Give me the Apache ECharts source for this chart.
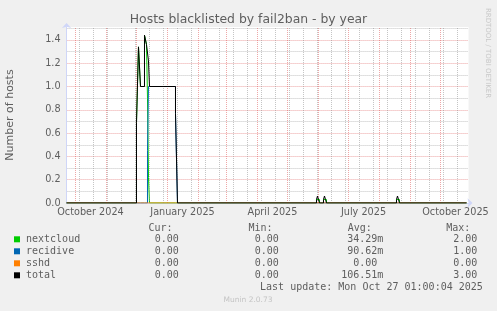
<!DOCTYPE html>
<html><head><meta charset="utf-8">
<script src="https://cdn.jsdelivr.net/npm/echarts@6/dist/echarts.min.js"></script>
<style>html,body{margin:0;padding:0;background:#f0f0f0;}#c{width:497px;height:311px;}</style>
</head><body><div id="c"></div>
<script>
// ---- data (values hold from each change date until the next one) ----
const changeDates = ['2024-09-22T01:00:04Z','2024-12-01','2024-12-03','2024-12-05','2024-12-09','2024-12-11','2024-12-12','2024-12-13','2024-12-14','2025-01-09','2025-01-11','2025-05-30','2025-05-31','2025-06-01','2025-06-02','2025-06-06','2025-06-07','2025-06-08','2025-06-09','2025-08-18','2025-08-19','2025-08-20','2025-08-21','2025-10-27T01:00:04Z'];
const nextcloudValues = [0,0.69,1.34,1.0,1.44,1.36,0.9,0.22,0,0,0,0.03,0.045,0.03,0,0.03,0.045,0.03,0,0.03,0.045,0.03,0,0];
const recidiveValues  = [0,0,0,0,0,0,0.45,1.0,1.0,0.77,0,0,0,0,0,0,0,0,0,0,0,0,0,0];
const sshdValues      = [0,0,0,0,0,0,0,0,0,0,0,0,0,0,0,0,0,0,0,0,0,0,0,0];
const totalValues     = [0,0.69,1.34,1.0,1.44,1.36,1.35,1.22,1.0,0.77,0,0.03,0.06,0.03,0,0.03,0.06,0.03,0,0.03,0.06,0.03,0,0];

const xLabelDates = ['2024-10-16','2025-01-16','2025-04-16','2025-07-16','2025-10-16'];
const xLabelTexts = ['October 2024','January 2025','April 2025','July 2025','October 2025'];
const monthStarts = ['2024-10-01','2024-11-01','2024-12-01','2025-01-01','2025-02-01','2025-03-01','2025-04-01','2025-05-01','2025-06-01','2025-07-01','2025-08-01','2025-09-01','2025-10-01'];
const minorGridAnchor = '2024-10-05';

const seriesNames = ['nextcloud','recidive','sshd','total'];
const seriesColors = ['#00cc00','#0066b3','#ff8000','#000000'];
const curValues = ['0.00','0.00','0.00','0.00'];
const minValues = ['0.00','0.00','0.00','0.00'];
const avgValues = ['34.29m','90.62m','0.00','106.51m'];
const maxValues = ['2.00','1.00','0.00','3.00'];
const lastUpdate = 'Last update: Mon Oct 27 01:00:04 2025';

// ---- helpers ----
const DAY = 86400000;
const T = s => Date.parse(s.length === 10 ? s + 'T00:00:00Z' : s);
const START = T(changeDates[0]);
const END = T(changeDates[changeDates.length - 1]);
const toPairs = vals => changeDates.map((d, i) => [T(d), vals[i]]);
const labelTs = xLabelDates.map(T);

const minorDates = [];
for (let t = T(minorGridAnchor); t < END + 2 * DAY; t += 14 * DAY) minorDates.push(t);

const RED = 'rgba(222,79,79,0.5)';
const GRAY = 'rgba(140,140,140,0.5)';
const DOT = [1, 1];
const splitColors = [];
for (let i = 0; i < 16; i++) splitColors.push(i % 2 === 0 ? RED : GRAY);
splitColors.push('rgba(0,0,0,0)');

const FONT = 'DejaVu Sans';
const MONO = 'DejaVu Sans Mono';
const TXT = '#5e5e5e';

const mk = (text, x, y, align) => ({
  type: 'text', x: x, y: y, silent: true,
  style: { text: text, fill: TXT, font: '10px "' + MONO + '"', align: align || 'left', textAlign: align || 'left', verticalAlign: 'middle', textVerticalAlign: 'middle' }
});

const rowY = [239.3, 251.3, 263.3, 275.3];
const CW = 6.02;
const graphics = [
  mk('Cur:', 148.5, 228.3), mk('Min:', 248.5, 228.3), mk('Avg:', 347.8, 228.3), mk('Max:', 446.2, 228.3)
];
rowY.forEach((y, i) => {
  graphics.push(mk(curValues[i], 154.8, y));
  graphics.push(mk(minValues[i], 254.8, y));
  const av = avgValues[i];
  graphics.push(mk(av, 383.3 - (/[a-zA-Z]$/.test(av) ? 0 : CW), y, 'right'));
  graphics.push(mk(maxValues[i], 453.2, y));
});
graphics.push(mk(lastUpdate, 482.8, 287.3, 'right'));
graphics.push({ type: 'text', x: 248, y: 300, silent: true,
  style: { text: 'Munin 2.0.73', fill: '#c4c4c4', font: '7.5px "' + FONT + '"', align: 'center', textAlign: 'center', verticalAlign: 'middle', textVerticalAlign: 'middle' } });
graphics.push({ type: 'text', x: 487.5, y: 53, rotation: -Math.PI / 2, silent: true,
  style: { text: 'RRDTOOL / TOBI OETIKER', fill: '#c8c8c8', font: '7px "' + FONT + '"', align: 'center', textAlign: 'center', verticalAlign: 'middle', textVerticalAlign: 'middle' } });

const gridSeries = (name, dates, color) => ({
  name: name, type: 'line', data: [], z: 1, silent: true, animation: false, color: color,
  markLine: { silent: true, symbol: ['none', 'none'], animation: false, label: { show: false },
    emphasis: { disabled: true }, lineStyle: { color: color, type: DOT, width: 1, opacity: 1 },
    data: dates.map(t => ({ xAxis: t })) }
});

const dataSeries = seriesNames.map((name, i) => ({
  name: name, type: 'line', step: 'end', showSymbol: false, symbol: 'none',
  data: toPairs([nextcloudValues, recidiveValues, sshdValues, totalValues][i]),
  lineStyle: { color: seriesColors[i], width: 1 }, itemStyle: { color: seriesColors[i] },
  z: 3 + i, silent: true, animation: false
}));

const chart = echarts.init(document.getElementById('c'), null, { renderer: 'canvas' });
chart.setOption({
  backgroundColor: '#f0f0f0',
  animation: false,
  title: { text: 'Hosts blacklisted by fail2ban - by year', left: 'center', top: 13.5, padding: 0,
    textStyle: { fontFamily: FONT, fontSize: 12.4, fontWeight: 'normal', color: TXT } },
  grid: { left: 66.54, top: 27, width: 402, height: 176, show: true, backgroundColor: '#ffffff', borderWidth: 0,
    containLabel: false, outerBoundsMode: 'none' },
  legend: { orient: 'vertical', left: 14, top: 233.3, padding: 0, itemGap: 0, itemWidth: 6, itemHeight: 6,
    icon: 'rect', selectedMode: false, data: seriesNames,
    textStyle: { fontFamily: MONO, fontSize: 10, color: TXT, lineHeight: 12, padding: [0, 0, 0, 1] } },
  xAxis: {
    type: 'value', min: START, max: END + 2 * DAY,
    axisLine: { show: true, onZero: false, lineStyle: { color: '#CFD6F8' }, symbol: ['none', 'arrow'], symbolSize: [7, 5], symbolOffset: [0, 4] },
    axisTick: { show: false },
    splitLine: { show: false },
    axisLabel: {
      customValues: labelTs,
      formatter: v => { const i = labelTs.findIndex(t => Math.abs(t - v) < 60000); return i >= 0 ? xLabelTexts[i] : ''; },
      color: TXT, fontFamily: FONT, fontSize: 9.7, margin: 4, showMinLabel: true, showMaxLabel: true, hideOverlap: false
    }
  },
  yAxis: {
    type: 'value', min: 0, max: 1.51073, interval: 0.1,
    name: 'Number of hosts', nameLocation: 'middle', nameGap: 51,
    nameTextStyle: { fontFamily: FONT, fontSize: 11, color: TXT },
    axisLine: { show: true, lineStyle: { color: '#CFD6F8' }, symbol: ['none', 'arrow'], symbolSize: [7, 5], symbolOffset: [0, 4] },
    axisTick: { show: false },
    axisLabel: {
      formatter: v => { const k = Math.round(v * 10); return (k % 2 === 0 && v < 1.45) ? (k / 10).toFixed(1) : ''; },
      color: TXT, fontFamily: FONT, fontSize: 9.7, margin: 6
    },
    splitLine: { show: true, lineStyle: { color: splitColors, type: DOT, width: 1 } }
  },
  graphic: graphics,
  series: [
    gridSeries('minorgrid', minorDates, GRAY),
    gridSeries('monthgrid', monthStarts.map(T), RED),
    ...dataSeries
  ]
});
</script></body></html>
